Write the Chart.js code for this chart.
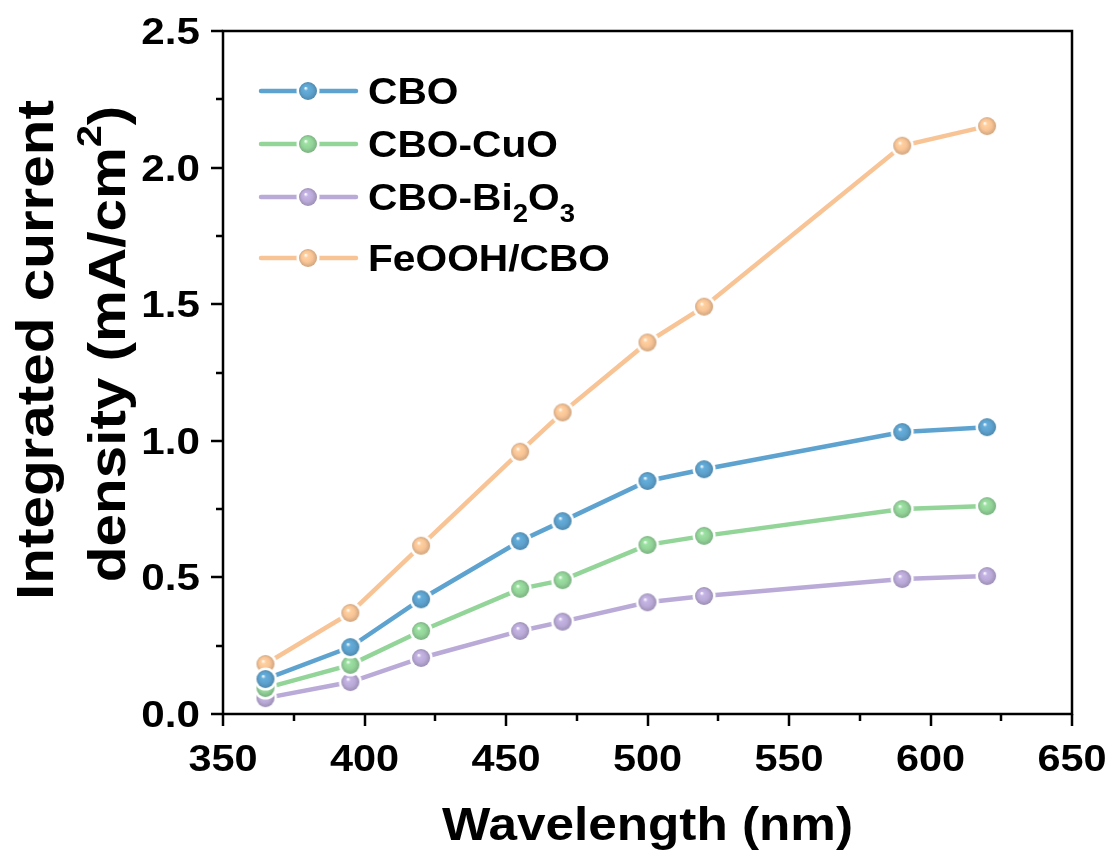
<!DOCTYPE html>
<html>
<head>
<meta charset="utf-8">
<script src="https://cdn.jsdelivr.net/npm/chart.js@4"></script>
<style>
  html, body { margin: 0; padding: 0; background: #fff; }
</style>
</head>
<body>
<canvas id="chart" width="1114" height="857"></canvas>
<script>
"use strict";

// wavelength (nm)
var wavelengths = [365, 395, 420, 455, 470, 500, 520, 590, 620];
// integrated current density (mA/cm2)
var cbo      = [0.128, 0.245, 0.420, 0.633, 0.706, 0.853, 0.896, 1.032, 1.050];
var cboCuO   = [0.095, 0.180, 0.304, 0.458, 0.490, 0.619, 0.652, 0.750, 0.761];
var cboBi2O3 = [0.058, 0.117, 0.205, 0.304, 0.338, 0.409, 0.432, 0.494, 0.505];
var feoohCbo = [0.183, 0.370, 0.616, 0.960, 1.104, 1.360, 1.491, 2.080, 2.152];

var seriesLabels = ['CBO', 'CBO-CuO', 'CBO-Bi2O3', 'FeOOH/CBO'];
var xTicks = { min: 350, max: 650, step: 50, minor: 25 };
var yTicks = { min: 0, max: 2.5, step: 0.5, minor: 0.25 };

var FONT = "'Liberation Sans', Arial, Helvetica, sans-serif";

function shade(hex, f) {
    var n = parseInt(hex.slice(1), 16);
    var r = Math.round(((n >> 16) & 255) * f), g = Math.round(((n >> 8) & 255) * f), b = Math.round((n & 255) * f);
    return 'rgb(' + Math.min(r, 255) + ',' + Math.min(g, 255) + ',' + Math.min(b, 255) + ')';
}

// little shaded ball with a white ring, like the Origin markers
function ball(color) {
    var r = 9, ring = 2.5, size = 26, m = size / 2;
    var c = document.createElement('canvas');
    c.width = size; c.height = size;
    var g = c.getContext('2d');
    g.fillStyle = '#fff';
    g.beginPath(); g.arc(m, m, r + ring, 0, Math.PI * 2); g.fill();
    var grad = g.createRadialGradient(m - 2.5, m - 3, 0.3, m, m, r);
    grad.addColorStop(0, '#ffffff');
    grad.addColorStop(0.22, shade(color, 1.06));
    grad.addColorStop(0.6, color);
    grad.addColorStop(1, shade(color, 0.84));
    g.fillStyle = grad;
    g.beginPath(); g.arc(m, m, r, 0, Math.PI * 2); g.fill();
    return c;
}

function series(label, values, color) {
    return {
        label: label,
        data: values.map(function (v, i) { return { x: wavelengths[i], y: v }; }),
        borderColor: color,
        backgroundColor: color,
        borderWidth: 4.5,
        pointStyle: ball(color),
        pointRadius: 9,
        tension: 0
    };
}

// text with sub/superscripts, stretched along the text direction by sx
// align: 'center' | 'left' | 'right'
function drawRich(ctx, parts, x, y, size, sx, align) {
    var subSize = Math.round(size * 0.68);
    var total = 0;
    parts.forEach(function (p) {
        ctx.font = 'bold ' + (p.s ? subSize : size) + 'px ' + FONT;
        p.w = ctx.measureText(p.t).width;
        total += p.w;
    });
    ctx.save();
    ctx.textAlign = 'left';
    ctx.textBaseline = 'alphabetic';
    ctx.translate(x, y);
    ctx.scale(sx, 1);
    var cx = align === 'left' ? 0 : (align === 'right' ? -total : -total / 2);
    parts.forEach(function (p) {
        ctx.font = 'bold ' + (p.s ? subSize : size) + 'px ' + FONT;
        var dy = p.s === 1 ? -size * 0.46 : (p.s === -1 ? size * 0.33 : 0);
        ctx.fillText(p.t, cx, dy);
        cx += p.w;
    });
    ctx.restore();
}

var decor = {
    id: 'decor',
    afterDraw: function (chart) {
        var ctx = chart.ctx, a = chart.chartArea;
        var xs = chart.scales.x, ys = chart.scales.y;
        ctx.save();
        ctx.strokeStyle = '#000';
        ctx.fillStyle = '#000';
        ctx.lineWidth = 2.5;
        ctx.strokeRect(a.left, a.top, a.right - a.left, a.bottom - a.top);

        // outward ticks, major + minor
        ctx.beginPath();
        var v, p, len;
        for (v = xTicks.min; v <= xTicks.max + 1e-9; v += xTicks.minor) {
            p = Math.round(xs.getPixelForValue(v));
            len = (Math.abs(v / xTicks.step - Math.round(v / xTicks.step)) < 1e-6) ? 12 : 7;
            ctx.moveTo(p, a.bottom); ctx.lineTo(p, a.bottom + len);
        }
        for (v = yTicks.min; v <= yTicks.max + 1e-9; v += yTicks.minor) {
            p = Math.round(ys.getPixelForValue(v));
            len = (Math.abs(v / yTicks.step - Math.round(v / yTicks.step)) < 1e-6) ? 12 : 7;
            ctx.moveTo(a.left, p); ctx.lineTo(a.left - len, p);
        }
        ctx.stroke();

        // tick labels from the scales' own ticks
        xs.ticks.forEach(function (t) {
            drawRich(ctx, [{ t: String(t.value) }], xs.getPixelForValue(t.value), a.bottom + 57, 37, 1.12, 'center');
        });
        ys.ticks.forEach(function (t) {
            drawRich(ctx, [{ t: t.value.toFixed(1) }], a.left - 23, ys.getPixelForValue(t.value) + 13, 37, 1.14, 'right');
        });

        // x title
        ctx.font = 'bold 47px ' + FONT;
        var xt = 'Wavelength (nm)';
        var sxX = 411 / ctx.measureText(xt).width;
        drawRich(ctx, [{ t: xt }], (a.left + a.right) / 2, 840, 47, sxX, 'center');

        // y title (condensed, two lines)
        ctx.font = 'bold 52px ' + FONT;
        var sxY = 500 / ctx.measureText('Integrated current').width;
        ctx.save();
        ctx.translate(53, 350);
        ctx.rotate(-Math.PI / 2);
        drawRich(ctx, [{ t: 'Integrated current' }], 0, 0, 52, sxY, 'center');
        ctx.restore();
        ctx.save();
        ctx.translate(125, 344);
        ctx.rotate(-Math.PI / 2);
        drawRich(ctx, [{ t: 'density (mA/cm' }, { t: '2', s: 1 }, { t: ')' }], 0, 0, 52, sxY, 'center');
        ctx.restore();

        // legend
        var rows = [91, 144, 197, 258];
        var names = [
            [{ t: 'CBO' }],
            [{ t: 'CBO-CuO' }],
            [{ t: 'CBO-Bi' }, { t: '2', s: -1 }, { t: 'O' }, { t: '3', s: -1 }],
            [{ t: 'FeOOH/CBO' }]
        ];
        chart.data.datasets.forEach(function (ds, i) {
            var y = rows[i];
            ctx.strokeStyle = ds.borderColor;
            ctx.lineWidth = 4.5;
            ctx.lineCap = 'round';
            ctx.beginPath(); ctx.moveTo(261, y); ctx.lineTo(356, y); ctx.stroke();
            ctx.drawImage(ds.pointStyle, 308 - 13, y - 13);
            ctx.fillStyle = '#000';
            drawRich(ctx, names[i], 368, y + 13, 37, 1.1, 'left');
        });
        ctx.restore();
    }
};

var chart = new Chart(document.getElementById('chart'), {
    type: 'line',
    data: {
        datasets: [
            series(seriesLabels[0], cbo, '#5ea3cf'),
            series(seriesLabels[1], cboCuO, '#93d499'),
            series(seriesLabels[2], cboBi2O3, '#baaad8'),
            series(seriesLabels[3], feoohCbo, '#f8c496')
        ]
    },
    options: {
        responsive: false,
        animation: false,
        devicePixelRatio: 1,
        layout: { padding: { top: 31, right: 42, left: 0, bottom: 0 } },
        scales: {
            x: {
                type: 'linear',
                min: xTicks.min,
                max: xTicks.max,
                grid: { display: false },
                border: { display: false },
                ticks: { stepSize: xTicks.step, display: false },
                afterFit: function (scale) { scale.height = 143; }
            },
            y: {
                min: yTicks.min,
                max: yTicks.max,
                grid: { display: false },
                border: { display: false },
                ticks: { stepSize: yTicks.step, display: false },
                afterFit: function (scale) { scale.width = 223; }
            }
        },
        plugins: {
            legend: { display: false },
            tooltip: { enabled: false }
        }
    },
    plugins: [decor]
});
</script>
</body>
</html>
